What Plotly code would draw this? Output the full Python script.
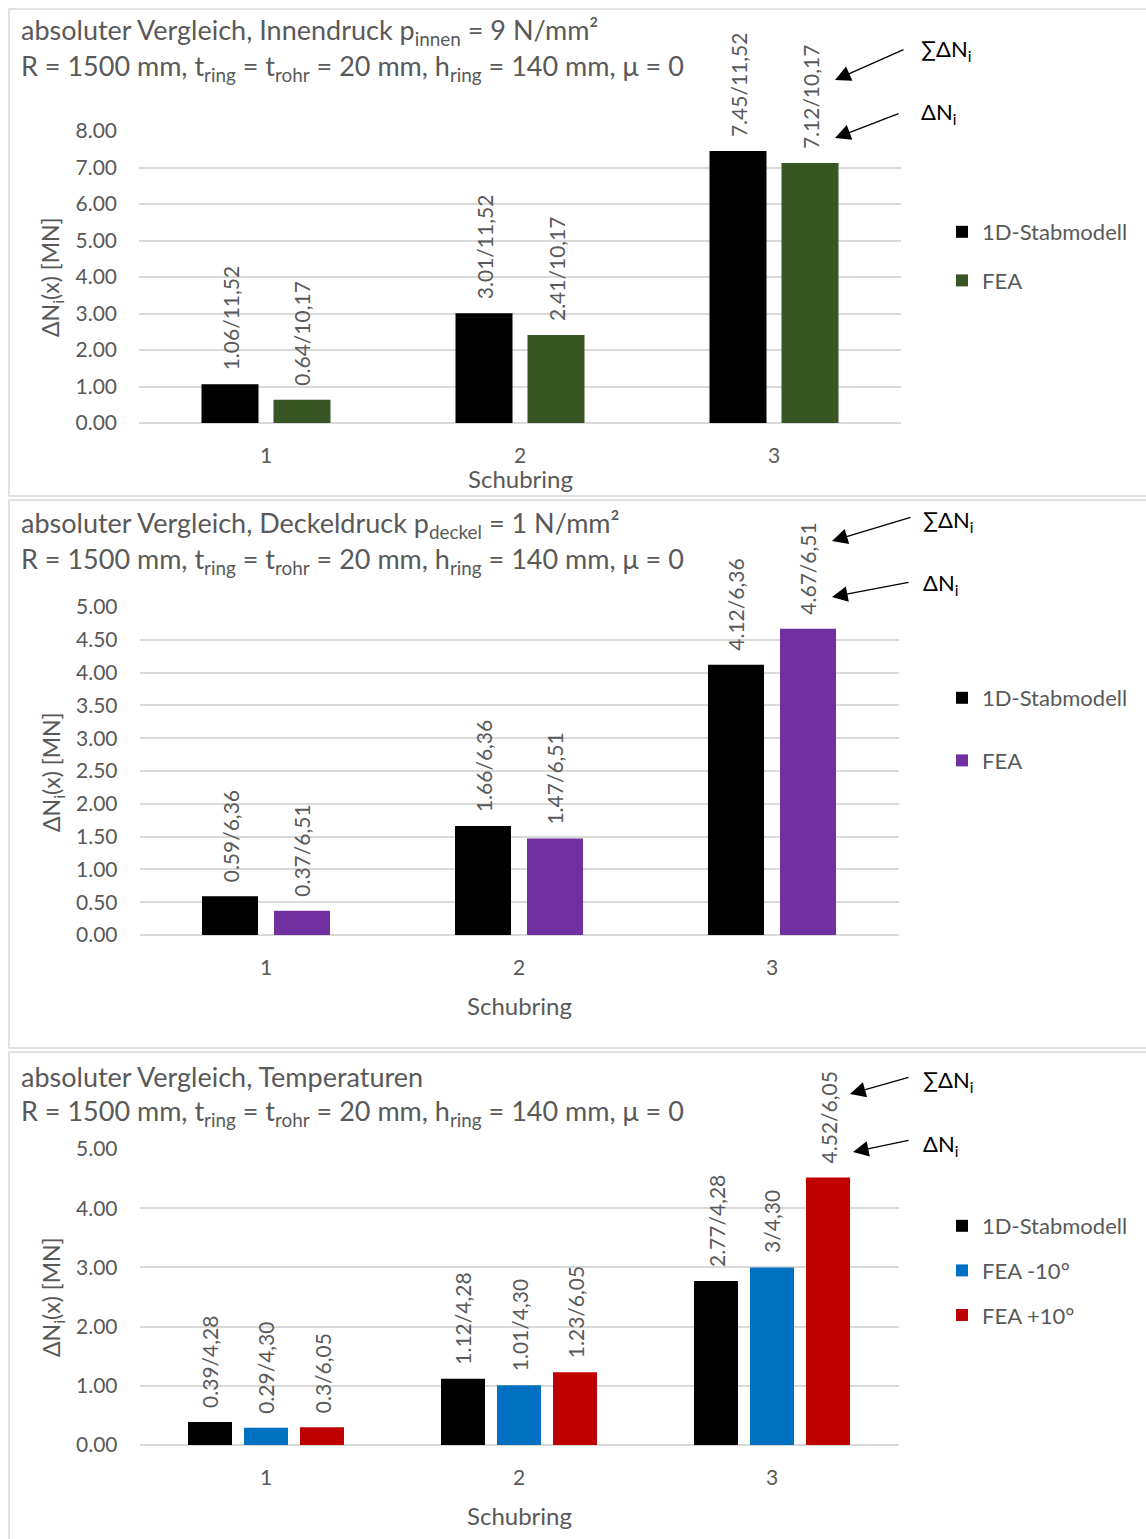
import plotly.graph_objects as go

W, H = 1146, 1539
FONT = "Lato"
GRAY = "#595959"

# ---------------- data ----------------
categories = [1, 2, 3]

# panel 1: Innendruck
p1_stab = [1.06, 3.01, 7.45]
p1_fea = [0.64, 2.41, 7.12]
p1_stab_lbl = ["1.06/11,52", "3.01/11,52", "7.45/11,52"]
p1_fea_lbl = ["0.64/10,17", "2.41/10,17", "7.12/10,17"]
p1_ticks = [0, 1, 2, 3, 4, 5, 6, 7, 8]

# panel 2: Deckeldruck
p2_stab = [0.59, 1.66, 4.12]
p2_fea = [0.37, 1.47, 4.67]
p2_stab_lbl = ["0.59/6,36", "1.66/6,36", "4.12/6,36"]
p2_fea_lbl = ["0.37/6,51", "1.47/6,51", "4.67/6,51"]
p2_ticks = [0, 0.5, 1, 1.5, 2, 2.5, 3, 3.5, 4, 4.5, 5]

# panel 3: Temperaturen
p3_stab = [0.39, 1.12, 2.77]
p3_fea_m10 = [0.29, 1.01, 3.00]
p3_fea_p10 = [0.30, 1.23, 4.52]
p3_stab_lbl = ["0.39/4,28", "1.12/4,28", "2.77/4,28"]
p3_m10_lbl = ["0.29/4,30", "1.01/4,30", "3/4,30"]
p3_p10_lbl = ["0.3/6,05", "1.23/6,05", "4.52/6,05"]
p3_ticks = [0, 1, 2, 3, 4, 5]

# ---------------- helpers ----------------
def px(x):
    return x / W

def py(y):
    return 1 - y / H

fig = go.Figure()
annotations = []
shapes = []

def add_bars(axis_suffix, legend_name, vals, labels, name, color, center_off, width):
    xa = "x" + axis_suffix
    ya = "y" + axis_suffix
    fig.add_trace(go.Bar(
        x=categories, y=vals, name=name,
        marker=dict(color=color, line=dict(width=0)),
        offset=center_off - width / 2, width=width,
        xaxis=xa, yaxis=ya, legend=legend_name, legendgroup=legend_name + name,
        showlegend=True, hoverinfo="skip",
    ))
    for c, v, t in zip(categories, vals, labels):
        annotations.append(dict(
            x=c + center_off, y=v, xref=xa, yref=ya, text=t, showarrow=False,
            textangle=-90, xanchor="center", yanchor="bottom", yshift=12,
            font=dict(family=FONT, size=21, color=GRAY),
        ))

# panel 1 (unit = 254 px)
u1 = 254.0
add_bars("", "legend", p1_stab, p1_stab_lbl, "1D-Stabmodell", "#000000", -36 / u1, 57 / u1)
add_bars("", "legend", p1_fea, p1_fea_lbl, "FEA", "#375623", 36 / u1, 57 / u1)
# panel 2 (unit = 253 px)
u2 = 253.0
add_bars("2", "legend2", p2_stab, p2_stab_lbl, "1D-Stabmodell", "#000000", -36 / u2, 56 / u2)
add_bars("2", "legend2", p2_fea, p2_fea_lbl, "FEA", "#7030A0", 36 / u2, 56 / u2)
# panel 3
add_bars("3", "legend3", p3_stab, p3_stab_lbl, "1D-Stabmodell", "#000000", -56 / u2, 44 / u2)
add_bars("3", "legend3", p3_fea_m10, p3_m10_lbl, "FEA -10°", "#0070C0", 0, 44 / u2)
add_bars("3", "legend3", p3_fea_p10, p3_p10_lbl, "FEA +10°", "#C00000", 56 / u2, 44 / u2)

def xaxis(dom):
    return dict(domain=dom, range=[0.5, 3.5], tickvals=categories,
                ticktext=[str(c) for c in categories], showgrid=False,
                showline=False, zeroline=False, ticks="", ticklabelstandoff=18,
                automargin=False,
                tickfont=dict(family=FONT, size=21, color=GRAY), fixedrange=True)

def yaxis(dom, rng, ticks, anchor):
    return dict(domain=dom, range=rng, tickvals=ticks,
                ticktext=["%.2f" % t for t in ticks], showgrid=True,
                gridcolor="#d9d9d9", gridwidth=1.5, zeroline=True,
                zerolinecolor="#d9d9d9", zerolinewidth=1.5, showline=False,
                ticks="", ticklabelstandoff=21, anchor=anchor, automargin=False,
                tickfont=dict(family=FONT, size=21, color=GRAY), fixedrange=True)

p1x = [px(139), px(901)]
p23x = [px(139.5), px(898.5)]
layout = dict(
    width=W, height=H, autosize=False,
    margin=dict(l=0, r=0, t=0, b=0, pad=0, autoexpand=False),
    paper_bgcolor="white", plot_bgcolor="white",
    barmode="overlay",
    xaxis=xaxis(p1x) | dict(anchor="y"),
    yaxis=yaxis([py(423), py(131)], [0, 8], p1_ticks, "x"),
    xaxis2=xaxis(p23x) | dict(anchor="y2"),
    yaxis2=yaxis([py(935), py(607)], [0, 5], p2_ticks, "x2"),
    xaxis3=xaxis(p23x) | dict(anchor="y3"),
    yaxis3=yaxis([py(1445), py(1149)], [0, 5], p3_ticks, "x3"),
)

def legend(ytop, gap):
    return dict(x=px(942), y=py(ytop), xanchor="left", yanchor="top",
                bgcolor="rgba(0,0,0,0)", tracegroupgap=gap, traceorder="grouped",
                itemwidth=30, font=dict(family=FONT, size=22, color=GRAY))

layout["legend"] = legend(211, 17)
layout["legend2"] = legend(677, 31)
layout["legend3"] = legend(1205, 13)

# panel borders
for y0, y1 in [(9, 496), (500, 1048), (1052, 1545)]:
    shapes.append(dict(type="rect", xref="paper", yref="paper",
                       x0=px(9), x1=px(1150), y0=py(y1), y1=py(y0),
                       line=dict(color="#d9d9d9", width=1.5), layer="below"))

# titles
titles = [
    ("absoluter Vergleich, Innendruck p<sub>innen</sub> = 9 N/mm²", 31),
    ("R = 1500 mm, t<sub>ring</sub> = t<sub>rohr</sub> = 20 mm, h<sub>ring</sub> = 140 mm, μ = 0", 67),
    ("absoluter Vergleich, Deckeldruck p<sub>deckel</sub> = 1 N/mm²", 524),
    ("R = 1500 mm, t<sub>ring</sub> = t<sub>rohr</sub> = 20 mm, h<sub>ring</sub> = 140 mm, μ = 0", 560),
    ("absoluter Vergleich, Temperaturen", 1076),
    ("R = 1500 mm, t<sub>ring</sub> = t<sub>rohr</sub> = 20 mm, h<sub>ring</sub> = 140 mm, μ = 0", 1112),
]
for t, yc in titles:
    annotations.append(dict(x=px(19), y=py(yc), xref="paper", yref="paper", text=t,
                            showarrow=False, xanchor="left", yanchor="middle",
                            font=dict(family=FONT, size=27, color=GRAY)))

# axis titles
for yc in [277, 772, 1297]:
    annotations.append(dict(x=px(52), y=py(yc), xref="paper", yref="paper",
                            text="ΔN<sub>i</sub>(x) [MN]", textangle=-90, showarrow=False,
                            xanchor="center", yanchor="middle",
                            font=dict(family=FONT, size=23, color=GRAY)))
for xc, yc in [(520, 478), (519, 1005), (519, 1515)]:
    annotations.append(dict(x=px(xc), y=py(yc), xref="paper", yref="paper",
                            text="Schubring", showarrow=False,
                            xanchor="center", yanchor="middle",
                            font=dict(family=FONT, size=24, color=GRAY)))

# arrows with labels
arrows = [
    ((835, 80), (905, 49), "∑ΔN<sub>i</sub>", (919, 50)),
    ((835, 138), (900, 113), "ΔN<sub>i</sub>", (919, 113)),
    ((832, 541), (912, 517), "∑ΔN<sub>i</sub>", (921, 521)),
    ((832, 597), (910, 582), "ΔN<sub>i</sub>", (921, 584)),
    ((850, 1094), (910, 1077), "∑ΔN<sub>i</sub>", (921, 1081)),
    ((853, 1152), (910, 1140), "ΔN<sub>i</sub>", (921, 1145)),
]
for (hx, hy), (tx, ty), txt, (lx, ly) in arrows:
    annotations.append(dict(x=px(hx), y=py(hy), xref="paper", yref="paper",
                            ax=tx - hx, ay=ty - hy, axref="pixel", ayref="pixel",
                            text="", showarrow=True, arrowhead=2, arrowsize=2.4,
                            arrowwidth=1.3, arrowcolor="#000000"))
    annotations.append(dict(x=px(lx), y=py(ly), xref="paper", yref="paper", text=txt,
                            showarrow=False, xanchor="left", yanchor="middle",
                            font=dict(family=FONT, size=22, color="#000000")))

layout["annotations"] = annotations
layout["shapes"] = shapes
fig.update_layout(**layout)

post = (
    "var r=document.documentElement,b=document.body;"
    "r.style.margin='0';r.style.padding='0';r.style.overflow='hidden';"
    "b.style.margin='0';b.style.padding='0';b.style.overflow='hidden';"
    "var d=document.getElementById('{plot_id}');"
    "d.style.position='fixed';d.style.top='0px';d.style.left='0px';"
)
fig.write_html("out.html", config={"displayModeBar": False}, post_script=post)
